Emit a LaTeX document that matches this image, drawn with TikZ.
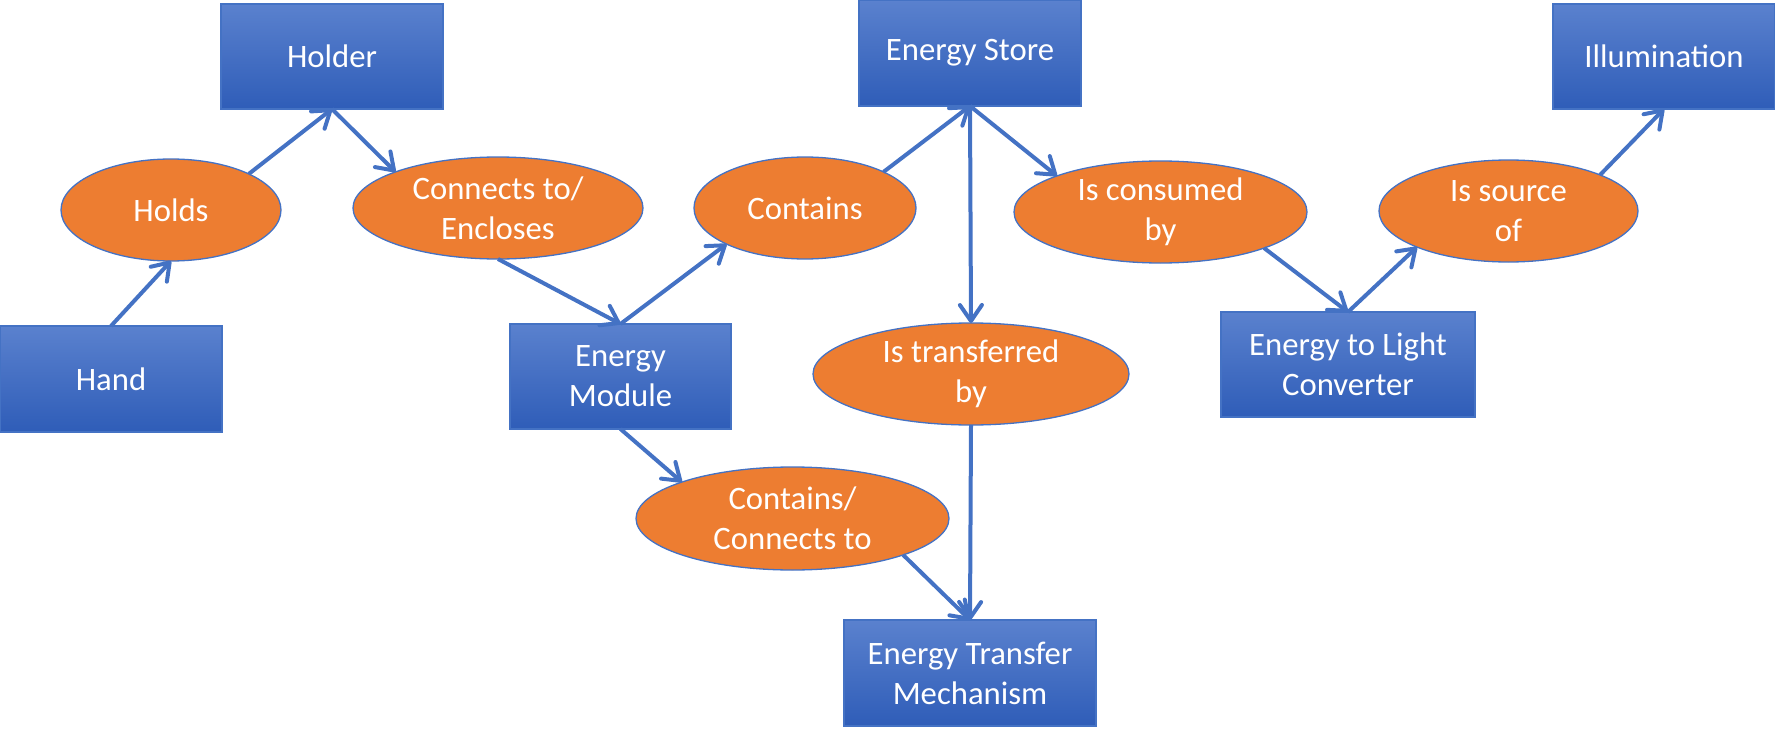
\documentclass[tikz,border=0pt]{standalone}
\usepackage{fontspec}
\setmainfont{Carlito}
\usetikzlibrary{shapes.geometric,arrows.meta}
\definecolor{linkblue}{HTML}{4472C4}
\definecolor{boxtop}{HTML}{5A81CE}
\definecolor{boxbot}{HTML}{2F5DB8}
\definecolor{ovalfill}{HTML}{ED7D31}
\tikzset{
  box/.style={rectangle, draw=linkblue, line width=1.3pt, top color=boxtop, bottom color=boxbot,
    text=white, align=center, inner sep=0pt, outer sep=0pt, font=\fontsize{32.7pt}{40pt}\selectfont},
  oval/.style={ellipse, draw=linkblue, line width=1.3pt, fill=ovalfill,
    text=white, align=center, inner sep=0pt, outer sep=0pt, font=\fontsize{32.7pt}{40pt}\selectfont},
  link/.style={draw=linkblue, line width=4pt, -{Straight Barb[length=16pt,width=22pt,round]}}
}
\begin{document}
\begin{tikzpicture}[x=1pt,y=-1pt]
\useasboundingbox (0,0) rectangle (1775,733);
\node[box, minimum width=222pt, minimum height=106pt] (hand) at (111,379) {Hand};
\node[box, minimum width=222pt, minimum height=105pt] (holder) at (332,56.5) {Holder};
\node[oval, minimum width=220pt, minimum height=102pt] (holds) at (171,210) {Holds};
\node[oval, minimum width=290pt, minimum height=102pt] (encl) at (498,208) {Connects to/\\Encloses};
\node[box, minimum width=221pt, minimum height=105pt] (module) at (620.5,376.5) {Energy\\Module};
\node[oval, minimum width=222pt, minimum height=102pt] (contains) at (805,208) {Contains};
\node[box, minimum width=222pt, minimum height=106pt] (store) at (970,53) {Energy Store};
\node[oval, minimum width=293pt, minimum height=102pt] (consumed) at (1160.5,212) {Is consumed\\by};
\node[oval, minimum width=316pt, minimum height=102pt] (transferred) at (971,374) {Is transferred\\by};
\node[oval, minimum width=313pt, minimum height=103pt] (connects) at (792.5,518.5) {Contains/\\Connects to};
\node[box, minimum width=252pt, minimum height=106pt] (mech) at (970,673) {Energy Transfer\\Mechanism};
\node[box, minimum width=254pt, minimum height=105pt] (conv) at (1348,364.5) {Energy to Light\\Converter};
\node[oval, minimum width=259pt, minimum height=102pt] (source) at (1508.5,211) {Is source\\of};
\node[box, minimum width=222pt, minimum height=105pt] (illum) at (1664,56.5) {Illumination};

\draw[link] (hand.north) -- (holds.south);
\draw[link] (holds.north east) -- (holder.south);
\draw[link] (holder.south) -- (encl.north west);
\draw[link] (encl.south) -- (module.north);
\draw[link] (module.north) -- (contains.south west);
\draw[link] (contains.north east) -- (store.south);
\draw[link] (store.south) -- (consumed.north west);
\draw[link] (store.south) -- (transferred.north);
\draw[link] (module.south) -- (connects.north west);
\draw[link] (connects.south east) -- (mech.north);
\draw[link] (transferred.south) -- (mech.north);
\draw[link] (consumed.south east) -- (conv.north);
\draw[link] (conv.north) -- (source.south west);
\draw[link] (source.north east) -- (illum.south);
\end{tikzpicture}
\end{document}
